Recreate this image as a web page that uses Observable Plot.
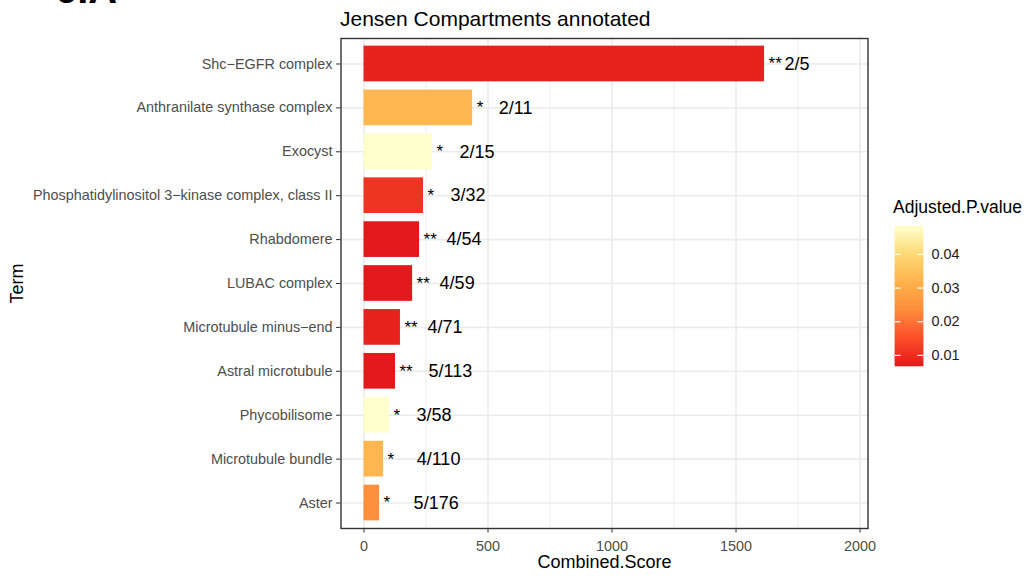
<!DOCTYPE html>
<html>
<head>
<meta charset="utf-8">
<script src="https://cdn.jsdelivr.net/npm/d3@7"></script>
<script src="https://cdn.jsdelivr.net/npm/@observablehq/plot@0.6"></script>
<style>
  body { margin: 0; background: #fff; font-family: "Liberation Sans", Arial, sans-serif; }
  #wrap { position: relative; width: 1027px; height: 576px; overflow: hidden; background: #fff; }
  #corner { position: absolute; left: 55px; top: -31px; font: bold 40px/40px "Liberation Sans", Arial, sans-serif; color: #000; }
  #title { position: relative; height: 30px; }
  #title span { position: absolute; left: 340px; top: 8px; font-size: 21px; line-height: 21px; color: #000; white-space: nowrap; }
  #chart svg { display: block; }
  #legendTitle { position: absolute; left: 893px; top: 199px; font-size: 17.5px; line-height: 17.5px; color: #000; white-space: nowrap; }
  #legend { position: absolute; left: 891px; top: 190px; }
</style>
</head>
<body>
<div id="wrap">
  <div id="corner">6.A</div>
  <div id="title"><span>Jensen Compartments annotated</span></div>
  <div id="chart"></div>
  <div id="legendTitle">Adjusted.P.value</div>
  <div id="legend"></div>
</div>
<script>
// ---- data (top to bottom) ----
const terms = [
  "Shc−EGFR complex",
  "Anthranilate synthase complex",
  "Exocyst",
  "Phosphatidylinositol 3−kinase complex, class II",
  "Rhabdomere",
  "LUBAC complex",
  "Microtubule minus−end",
  "Astral microtubule",
  "Phycobilisome",
  "Microtubule bundle",
  "Aster"
];
const combinedScore = [1615, 438, 276, 240, 224, 196, 147, 127, 103, 79, 63];
const adjustedPValue = [0.0079, 0.0325, 0.0483, 0.0109, 0.0067, 0.0067, 0.0079, 0.0067, 0.0483, 0.0325, 0.024];
const stars = ["**", "*", "*", "*", "**", "**", "**", "**", "*", "*", "*"];
const overlap = ["2/5", "2/11", "2/15", "3/32", "4/54", "4/59", "4/71", "5/113", "3/58", "4/110", "5/176"];
const xTicks = [0, 500, 1000, 1500, 2000];
const xMinorTicks = [250, 750, 1250, 1750];
const legendTicks = [0.01, 0.02, 0.03, 0.04];
const palette = ["#e31a1c", "#fc4e2a", "#fd8d3c", "#feb24c", "#fed976", "#ffffcc"];

const data = terms.map((t, i) => ({
  term: t, score: combinedScore[i], p: adjustedPValue[i], stars: stars[i], overlap: overlap[i]
}));
const pExtent = d3.extent(adjustedPValue);
const colorOpts = { type: "linear", domain: pExtent, interpolate: d3.piecewise(d3.interpolateRgb, palette) };

const font = "Liberation Sans, Arial, sans-serif";

const W = 1027, H = 546;
const chart = Plot.plot({
  width: W, height: H,
  marginTop: 8, marginBottom: 48, marginLeft: 340.5, marginRight: W - 867.5,
  style: { fontFamily: font, fontSize: "14.4px", background: "#fff", overflow: "visible" },
  x: { domain: [-92.7, 2032] },
  y: { domain: terms, paddingInner: 0.187, paddingOuter: 0.174, round: false },
  color: colorOpts,
  marks: [
    Plot.gridX(xMinorTicks, { stroke: "#ebebeb", strokeOpacity: 1, strokeWidth: 0.9 }),
    Plot.gridX(xTicks, { stroke: "#ebebeb", strokeOpacity: 1, strokeWidth: 1.6 }),
    Plot.gridY(terms, { stroke: "#ebebeb", strokeOpacity: 1, strokeWidth: 1.6 }),
    Plot.barX(data, { x: "score", y: "term", fill: "p" }),
    Plot.text(data, { x: "score", y: "term", text: "stars", textAnchor: "start", dx: 4, fontSize: 17, fill: "#000" }),
    Plot.text(data, { x: "score", y: "term", text: "overlap", textAnchor: "start", fontSize: 18, fill: "#000", className: "ovl" }),
    Plot.frame({ stroke: "#333", strokeWidth: 1.4 }),
    Plot.axisX(xTicks, { tickSize: 4.5, tickPadding: 8, stroke: "#333", fill: "#4d4d4d", label: null, fontSize: 14.4, tickFormat: d => String(d) }),
    Plot.axisY({ tickSize: 4.5, tickPadding: 4, stroke: "#333", fill: "#4d4d4d", label: null, fontSize: 14.4 }),
    Plot.text(["Combined.Score"], { frameAnchor: "bottom", lineAnchor: "middle", textAnchor: "middle", dy: 34, text: d => d, fontSize: 18, fill: "#000" }),
    Plot.text(["Term"], { frameAnchor: "left", lineAnchor: "middle", textAnchor: "middle", dx: -324, rotate: -90, text: d => d, fontSize: 18, fill: "#000" })
  ]
});
document.getElementById("chart").append(chart);

// emulate ggplot's negative hjust for the overlap labels (offset grows with label width)
chart.querySelectorAll(".ovl text").forEach(t => {
  const w = t.getComputedTextLength();
  t.setAttribute("dx", (0.7 * w + 2.5).toFixed(1));
});

// ---- vertical colour bar legend ----
const lo = pExtent[0], hi = pExtent[1];
const N = 140;
const slices = d3.range(N).map(i => ({
  y1: lo + (hi - lo) * i / N,
  y2: lo + (hi - lo) * (i + 1) / N,
  v: lo + (hi - lo) * (i + 0.5) / N
}));
const legend = Plot.plot({
  width: 136, height: 190,
  marginTop: 36, marginBottom: 14, marginLeft: 4, marginRight: 104,
  style: { fontFamily: font, fontSize: "14.4px", background: "transparent", overflow: "visible" },
  x: { domain: [0, 1], axis: null },
  y: { domain: [lo, hi] },
  color: colorOpts,
  marks: [
    Plot.rect(slices, { x1: 0, x2: 1, y1: "y1", y2: "y2", fill: "v", stroke: "v", strokeWidth: 0.6 }),
    Plot.ruleY(legendTicks, { y: d => d, x1: 0, x2: 0.2, stroke: "white", strokeWidth: 1.2 }),
    Plot.ruleY(legendTicks, { y: d => d, x1: 0.8, x2: 1, stroke: "white", strokeWidth: 1.2 }),
    Plot.axisY(legendTicks, { anchor: "right", tickSize: 0, tickPadding: 8, fill: "#1a1a1a", label: null, fontSize: 14.4, tickFormat: d3.format(".2f") })
  ]
});
document.getElementById("legend").append(legend);
</script>
</body>
</html>
